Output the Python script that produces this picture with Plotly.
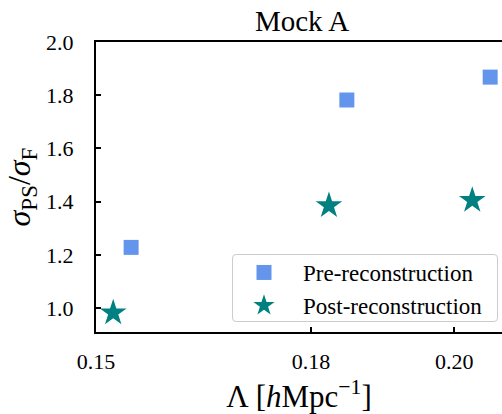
import plotly.graph_objects as go

# Smoothing scale Lambda [h/Mpc] and sigma_PS / sigma_F ratios
lam_pre = [0.1549, 0.1850, 0.2050]
ratio_pre = [1.228, 1.782, 1.868]
lam_post = [0.1524, 0.1825, 0.2025]
ratio_post = [0.982, 1.385, 1.405]

x_ticks = [0.15, 0.18, 0.20]
x_tick_text = ["0.15", "0.18", "0.20"]
y_ticks = [1.0, 1.2, 1.4, 1.6, 1.8, 2.0]
y_tick_text = ["1.0", "1.2", "1.4", "1.6", "1.8", "2.0"]

FONT = "Liberation Serif, Times New Roman, serif"
W, H = 502, 414
L, R, T, B = 96, 0, 42, 82
PW, PH = W - L - R, H - T - B


def px_to_paper(px, py):
    """Pixel position in the page -> paper coordinates of the plot area."""
    return (px - L) / PW, (H - B - py) / PH


def rounded_box(x0, y0, x1, y1, r):
    """SVG path for a rounded rectangle given in page pixels."""
    ax0, ay0 = px_to_paper(x0, y1)
    ax1, ay1 = px_to_paper(x1, y0)
    rx, ry = r / PW, r / PH
    return (
        f"M{ax0 + rx},{ay0} L{ax1 - rx},{ay0} Q{ax1},{ay0} {ax1},{ay0 + ry} "
        f"L{ax1},{ay1 - ry} Q{ax1},{ay1} {ax1 - rx},{ay1} "
        f"L{ax0 + rx},{ay1} Q{ax0},{ay1} {ax0},{ay1 - ry} "
        f"L{ax0},{ay0 + ry} Q{ax0},{ay0} {ax0 + rx},{ay0} Z"
    )


fig = go.Figure()
fig.add_trace(go.Scatter(
    x=lam_pre, y=ratio_pre, mode="markers", name="Pre-reconstruction",
    marker=dict(symbol="square", size=15, color="#6495ED", line=dict(width=0)),
))
fig.add_trace(go.Scatter(
    x=lam_post, y=ratio_post, mode="markers", name="Post-reconstruction",
    marker=dict(symbol="star", size=20, color="#008080", line=dict(width=0)),
))

# legend frame with rounded corners
fig.add_shape(
    type="path", xref="paper", yref="paper", layer="above",
    path=rounded_box(232.5, 254.5, 497.5, 321.5, 3.5),
    fillcolor="rgba(255,255,255,0.8)",
    line=dict(color="#cccccc", width=1),
)

lx, ly = px_to_paper(225, 251)

fig.update_layout(
    width=W, height=H,
    margin=dict(l=L, r=R, t=T, b=B, pad=0),
    paper_bgcolor="white", plot_bgcolor="white",
    font=dict(family=FONT, size=22, color="black"),
    title=dict(
        text="Mock A", font=dict(family=FONT, size=29, color="black"),
        x=(302 - L) / PW, xref="paper", xanchor="center",
        y=1 - 21 / H, yref="container", yanchor="middle",
    ),
    showlegend=True,
    legend=dict(
        x=lx, xanchor="left", y=ly, yanchor="top",
        bgcolor="rgba(0,0,0,0)", borderwidth=0,
        font=dict(family=FONT, size=23, color="black"),
        itemsizing="trace", itemwidth=68,
    ),
    xaxis=dict(
        range=[0.15, 0.15 + PW / 7167],
        tickmode="array", tickvals=x_ticks, ticktext=x_tick_text,
        tickfont=dict(family=FONT, size=22, color="black"),
        ticks="inside", ticklen=5, tickwidth=1.5, tickcolor="black",
        showline=True, linecolor="black", linewidth=2, mirror=True,
        showgrid=False, zeroline=False,
        ticklabelstandoff=9,
        title=dict(text="Λ [<i>h</i>Mpc<sup>−1</sup>]",
                   font=dict(family=FONT, size=31), standoff=12),
    ),
    yaxis=dict(
        range=[0.91, 2.0],
        tickmode="array", tickvals=y_ticks, ticktext=y_tick_text,
        tickfont=dict(family=FONT, size=22, color="black"),
        ticks="inside", ticklen=5, tickwidth=1.5, tickcolor="black",
        showline=True, linecolor="black", linewidth=2, mirror=False,
        showgrid=False, zeroline=False,
        ticklabelstandoff=16,
        title=dict(
            text=("<i>σ</i><sub><span style='font-size:23px'>PS</span></sub>"
                  "/<i>σ</i><sub><span style='font-size:23px'>F</span></sub>"),
            font=dict(family=FONT, size=32), standoff=6),
    ),
)

fig.write_html("out.html")
